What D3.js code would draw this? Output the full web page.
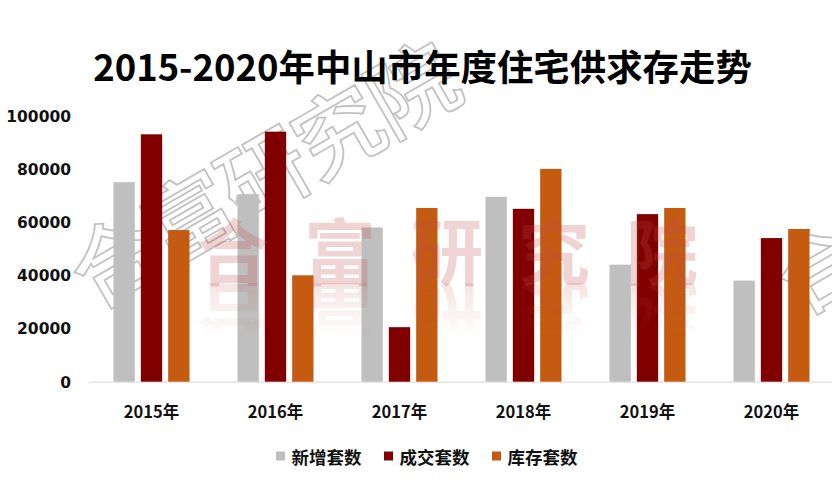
<!DOCTYPE html>
<html><head><meta charset="utf-8">
<script src="https://cdn.jsdelivr.net/npm/d3@7/dist/d3.min.js"></script>
<style>
html,body{margin:0;padding:0;background:#fff;}
svg{display:block;}
</style></head>
<body>
<svg id="chart" width="832" height="494"></svg>
<script>
const categories = ["2015年","2016年","2017年","2018年","2019年","2020年"];
const seriesNames = ["新增套数","成交套数","库存套数"];
const newSupply = [75000, 70500, 58000, 69500, 44000, 38000];
const deals = [93000, 94000, 20500, 65000, 63000, 54000];
const inventory = [57000, 40000, 65300, 80000, 65300, 57400];
const yTicks = [0, 20000, 40000, 60000, 80000, 100000];
const colors = ["#BFBFBF", "#800000", "#C55A11"];
const titleText = "2015-2020年中山市年度住宅供求存走势";
const watermark = "合富研究院";

const seriesValues = [newSupply, deals, inventory];
const svg = d3.select("#chart");
const W = 832, H = 494;
const cjk = "'Noto Sans CJK SC', 'Microsoft YaHei', sans-serif";
const num = "'DejaVu Sans', 'Noto Sans CJK SC', sans-serif";

// outlined diagonal watermark (behind)
const defs = svg.append("defs");
defs.append("clipPath").attr("id", "page").append("rect").attr("width", W).attr("height", H);
const wm = svg.append("g").attr("clip-path", "url(#page)");
function outlineWM(x0, y0, count) {
  const step = 86, ang = -30 * Math.PI / 180;
  watermark.split("").slice(0, count).forEach((ch, i) => {
    const cx = x0 + i * step * Math.cos(ang), cy = y0 + i * step * Math.sin(ang);
    wm.append("text").attr("x", cx).attr("y", cy)
      .attr("transform", `rotate(-30,${cx},${cy})`)
      .attr("text-anchor", "middle").attr("dominant-baseline", "central")
      .attr("font-family", cjk).attr("font-size", 88).attr("font-weight", 500)
      .attr("fill", "#fff").attr("stroke", "#c2c2c2").attr("stroke-width", 1.8)
      .text(ch);
  });
}
outlineWM(112, 256, 5);
outlineWM(818, 262, 1);

const x0 = d3.scaleBand().domain(categories).range([89.5, 833.5]).paddingInner(0.387).paddingOuter(0.1935);
const x1 = d3.scaleBand().domain(seriesNames).range([0, x0.bandwidth()]).paddingInner(0.22).paddingOuter(0);
const y = d3.scaleLinear().domain([0, 100000]).range([381.7, 115.7]);

// baseline
svg.append("line").attr("x1", 89).attr("x2", W).attr("y1", y(0) + 0.5).attr("y2", y(0) + 0.5)
  .attr("stroke", "#d9d9d9").attr("stroke-width", 1);

// bars
const groups = svg.append("g").selectAll("g").data(categories).join("g")
  .attr("transform", d => `translate(${x0(d)},0)`);
groups.selectAll("rect").data((d, i) => seriesNames.map((s, j) => ({ s, j, v: seriesValues[j][i] })))
  .join("rect")
  .attr("x", d => x1(d.s)).attr("width", x1.bandwidth())
  .attr("y", d => y(d.v)).attr("height", d => y(0) - y(d.v))
  .attr("fill", d => colors[d.j]);

// pink watermark with reflection
const grad = defs.append("linearGradient").attr("id", "fade").attr("x1", 0).attr("y1", 0).attr("x2", 0).attr("y2", 1);
grad.append("stop").attr("offset", "0%").attr("stop-color", "#fff").attr("stop-opacity", 1);
grad.append("stop").attr("offset", "100%").attr("stop-color", "#fff").attr("stop-opacity", 0);
const mask = defs.append("mask").attr("id", "refmask").attr("maskUnits", "userSpaceOnUse")
  .attr("x", 0).attr("y", 283).attr("width", W).attr("height", 60);
mask.append("rect").attr("x", 0).attr("y", 283).attr("width", W).attr("height", 55).attr("fill", "url(#fade)");

const pinkCenters = [233, 340, 447, 554, 662];
function pinkRow(g) {
  watermark.split("").forEach((ch, i) => {
    g.append("text").attr("x", pinkCenters[i]).attr("y", 247)
      .attr("text-anchor", "middle").attr("dominant-baseline", "central")
      .attr("font-family", cjk).attr("font-weight", 700).attr("font-size", 72)
      .attr("fill", "#C0504D").text(ch);
  });
}
pinkRow(svg.append("g").attr("opacity", 0.24));
pinkRow(svg.append("g").attr("mask", "url(#refmask)").append("g").attr("opacity", 0.16)
  .attr("transform", "translate(0,566) scale(1,-1)"));

// y axis
const yAxis = svg.append("g").attr("transform", "translate(71,0)")
  .call(d3.axisLeft(y).tickValues(yTicks).tickSize(0).tickPadding(0).tickFormat(d3.format("d")));
yAxis.select(".domain").remove();
yAxis.selectAll("text").attr("font-family", num).attr("font-weight", 700).attr("font-size", 15.5)
  .attr("fill", "#111").attr("dy", "0.35em");

// x axis labels
const xAxis = svg.append("g").attr("transform", `translate(0,${y(0)})`)
  .call(d3.axisBottom(x0).tickSize(0).tickPadding(0));
xAxis.select(".domain").remove();
xAxis.selectAll("text").attr("font-family", cjk).attr("font-weight", 700).attr("font-size", 16.5)
  .attr("fill", "#111").attr("dy", null).attr("y", 29).attr("dominant-baseline", "central");

// title
const title = svg.append("text").attr("x", 422.5).attr("y", 65)
  .attr("text-anchor", "middle").attr("dominant-baseline", "central")
  .attr("font-family", cjk).attr("font-weight", 700).attr("font-size", 36)
  .attr("fill", "#000").text(titleText);
const tw = title.node().getComputedTextLength();
title.attr("font-size", 36 * 659 / tw);

// legend
const legX = [276, 384, 492];
const leg = svg.append("g").selectAll("g").data(seriesNames).join("g")
  .attr("transform", (d, i) => `translate(${legX[i]},456)`);
leg.append("rect").attr("x", 0).attr("y", -4.5).attr("width", 9).attr("height", 9)
  .attr("fill", (d, i) => colors[i]);
leg.append("text").attr("x", 15.5).attr("y", 0).attr("dominant-baseline", "central")
  .attr("font-family", cjk).attr("font-weight", 700).attr("font-size", 17.5)
  .attr("fill", "#111").text(d => d);
</script>
</body></html>
